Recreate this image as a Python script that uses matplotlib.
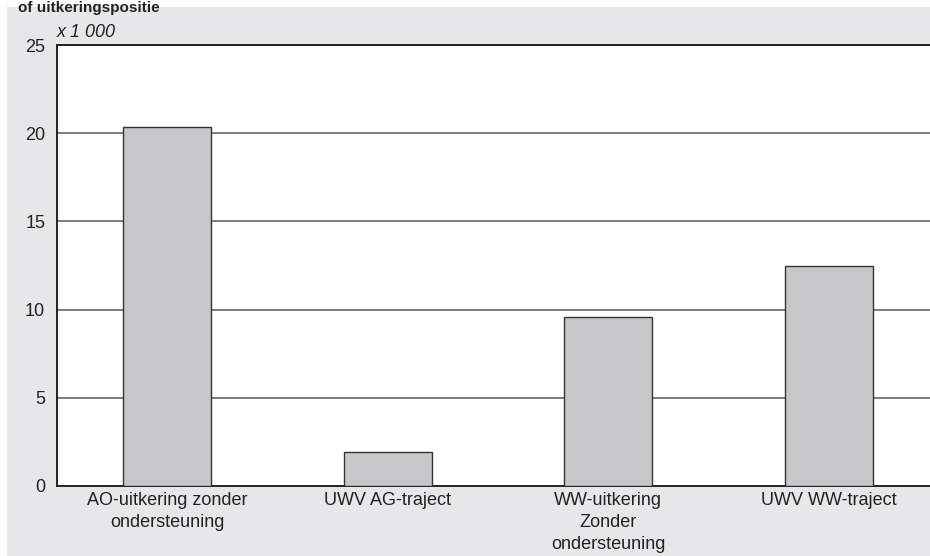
import matplotlib.pyplot as plt
from matplotlib.patches import Rectangle

categories = ["AO-uitkering zonder\nondersteuning", "UWV AG-traject",
              "WW-uitkering\nZonder\nondersteuning", "UWV WW-traject"]
values = [20.35, 1.9, 9.6, 12.5]
yticks = [0, 5, 10, 15, 20, 25]

plt.rcParams['font.family'] = ['Liberation Sans', 'DejaVu Sans']

W, H = 930, 556
fig = plt.figure(figsize=(9.3, 5.56), dpi=100)
fig.patch.set_facecolor('white')
# grey panel behind the chart
fig.patches.append(Rectangle((7 / W, 0), 1 - 7 / W, (H - 7) / H, transform=fig.transFigure,
                             facecolor='#e6e7e8', edgecolor='none', zorder=-5))

ax = fig.add_axes([57 / W, (H - 486) / H, 882 / W, (486 - 45) / H])
ax.set_facecolor('white')

x = range(len(categories))
ax.bar(x, values, width=0.40, color='#c6c7c9', edgecolor='#333333', linewidth=1.0, zorder=3)

ax.set_xlim(-0.5, 3.5)
ax.set_ylim(0, 25)
ax.set_yticks(yticks)
ax.set_yticklabels([str(t) for t in yticks], fontsize=13, color='#222222')
ax.set_xticks(list(x))
ax.set_xticklabels(categories, fontsize=13, color='#222222', linespacing=1.4)
ax.tick_params(axis='y', length=0, pad=8.5)
ax.tick_params(axis='x', length=0, pad=4)

for t in yticks[1:-1]:
    ax.axhline(t, color='#666666', linewidth=1.2, zorder=1)

for s in ['left', 'bottom', 'top']:
    ax.spines[s].set_color('#222222')
    ax.spines[s].set_linewidth(1.4)
ax.spines['right'].set_visible(False)

fig.text(57 / W, (H - 37) / H, "x 1 000", fontsize=13, style='italic', color='#222222')
fig.text(18 / W, (H - 1) / H, "of uitkeringspositie", fontsize=11, weight='bold',
         color='#222222', va='top')

fig.savefig('out.png', dpi=100, facecolor=fig.get_facecolor())
